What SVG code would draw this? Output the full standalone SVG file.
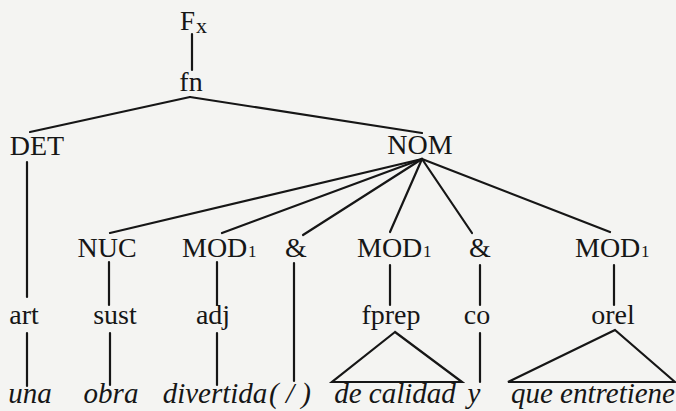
<svg xmlns="http://www.w3.org/2000/svg" width="676" height="411" viewBox="0 0 676 411">
<rect x="0" y="0" width="676" height="411" fill="#f4f4f2"/>
<g id="edges" stroke="#161616" stroke-width="2.2" fill="none" stroke-linecap="round">
<line x1="192" y1="34" x2="192" y2="70"/>
<line x1="190" y1="97" x2="30" y2="132"/>
<line x1="190" y1="97" x2="422" y2="133"/>
<line x1="27" y1="162" x2="27" y2="297"/>
<line x1="27" y1="333" x2="27" y2="386"/>
<line x1="422" y1="159" x2="110" y2="233"/>
<line x1="422" y1="159" x2="222" y2="233"/>
<line x1="422" y1="159" x2="303" y2="235"/>
<line x1="422" y1="159" x2="390" y2="232"/>
<line x1="422" y1="159" x2="472" y2="233"/>
<line x1="422" y1="159" x2="610" y2="232"/>
<line x1="109" y1="262" x2="109" y2="305"/>
<line x1="110" y1="333" x2="110" y2="385"/>
<line x1="217" y1="262" x2="217" y2="305"/>
<line x1="217" y1="333" x2="217" y2="385"/>
<line x1="294" y1="263" x2="294" y2="381"/>
<line x1="390" y1="265" x2="390" y2="305"/>
<line x1="480" y1="265" x2="480" y2="305"/>
<line x1="480" y1="333" x2="480" y2="382"/>
<line x1="614" y1="265" x2="614" y2="305"/>
<polygon points="395,332 332,382 462,382"/>
<polygon points="615,330 508,382 675,382"/>
</g>
<g id="n-Fx"><text x="180" y="30" font-family="Liberation Serif" font-size="27" fill="#161616">F</text><text x="196" y="33" font-family="Liberation Serif" font-size="22" fill="#161616">x</text></g>
<g id="n-fn"><text x="191" y="91" font-family="Liberation Serif" font-size="28" text-anchor="middle" fill="#161616">fn</text></g>
<g id="n-DET"><text x="37" y="155" font-family="Liberation Serif" font-size="28" text-anchor="middle" fill="#161616">DET</text></g>
<g id="n-NOM"><text x="420" y="154" font-family="Liberation Serif" font-size="28" text-anchor="middle" fill="#161616">NOM</text></g>
<g id="n-NUC"><text x="107" y="257" font-family="Liberation Serif" font-size="28" text-anchor="middle" fill="#161616">NUC</text></g>
<g id="n-MOD1a"><text x="182" y="257" font-family="Liberation Serif" font-size="28" fill="#161616">MOD</text><text x="248" y="257" font-family="Liberation Serif" font-size="17" fill="#161616">1</text></g>
<g id="n-amp1"><text x="296" y="257" font-family="Liberation Serif" font-size="28" text-anchor="middle" fill="#161616">&amp;</text></g>
<g id="n-MOD1b"><text x="357" y="257" font-family="Liberation Serif" font-size="28" fill="#161616">MOD</text><text x="423" y="257" font-family="Liberation Serif" font-size="17" fill="#161616">1</text></g>
<g id="n-amp2"><text x="480" y="257" font-family="Liberation Serif" font-size="28" text-anchor="middle" fill="#161616">&amp;</text></g>
<g id="n-MOD1c"><text x="575" y="257" font-family="Liberation Serif" font-size="28" fill="#161616">MOD</text><text x="641" y="257" font-family="Liberation Serif" font-size="17" fill="#161616">1</text></g>
<g id="n-art"><text x="24" y="324" font-family="Liberation Serif" font-size="28" text-anchor="middle" fill="#161616">art</text></g>
<g id="n-sust"><text x="115" y="324" font-family="Liberation Serif" font-size="28" text-anchor="middle" fill="#161616">sust</text></g>
<g id="n-adj"><text x="213" y="324" font-family="Liberation Serif" font-size="28" text-anchor="middle" fill="#161616">adj</text></g>
<g id="n-fprep"><text x="391" y="324" font-family="Liberation Serif" font-size="28" text-anchor="middle" fill="#161616">fprep</text></g>
<g id="n-co"><text x="477" y="324" font-family="Liberation Serif" font-size="28" text-anchor="middle" fill="#161616">co</text></g>
<g id="n-orel"><text x="613" y="324" font-family="Liberation Serif" font-size="28" text-anchor="middle" fill="#161616">orel</text></g>
<g id="n-una"><text x="30" y="403" font-family="Liberation Serif" font-size="29" font-style="italic" text-anchor="middle" fill="#161616">una</text></g>
<g id="n-obra"><text x="111" y="403" font-family="Liberation Serif" font-size="29" font-style="italic" text-anchor="middle" fill="#161616">obra</text></g>
<g id="n-divertida"><text x="215" y="403" font-family="Liberation Serif" font-size="29" font-style="italic" text-anchor="middle" fill="#161616">divertida</text></g>
<g id="n-slash"><text x="290" y="403" font-family="Liberation Serif" font-size="29" font-style="italic" text-anchor="middle" fill="#161616">( / )</text></g>
<g id="n-decalidad"><text x="395" y="403" font-family="Liberation Serif" font-size="29" font-style="italic" text-anchor="middle" fill="#161616">de  calidad</text></g>
<g id="n-y"><text x="474" y="403" font-family="Liberation Serif" font-size="29" font-style="italic" text-anchor="middle" fill="#161616">y</text></g>
<g id="n-que"><text x="593" y="403" font-family="Liberation Serif" font-size="29" font-style="italic" text-anchor="middle" fill="#161616">que  entretiene</text></g>
</svg>
